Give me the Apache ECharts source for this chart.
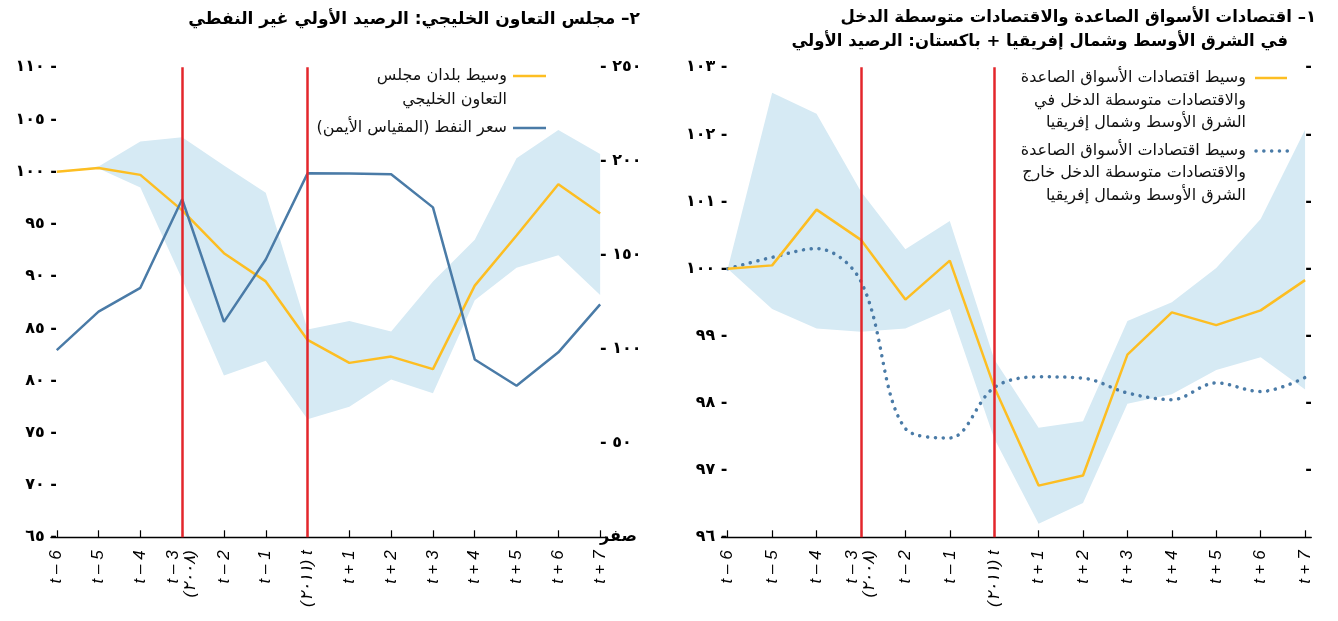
<!DOCTYPE html>
<html>
<head>
<meta charset="utf-8">
<script src="https://cdn.jsdelivr.net/npm/echarts@6/dist/echarts.min.js"></script>
<style>
  html, body { margin: 0; padding: 0; background: #fff; }
  #chart { width: 1338px; height: 621px; }
</style>
</head>
<body>
<div id="chart"></div>
<script>
// periods around the shock (t-3 = 2008, t = 2011)
const periods = ['t – 6', 't – 5', 't – 4', 't – 3\n(٢٠٠٨)', 't – 2', 't – 1', '(٢٠١١) t',
  't + 1', 't + 2', 't + 3', 't + 4', 't + 5', 't + 6', 't + 7'];
const shockIdx = [3, 6];

// panel 2: GCC non-oil primary balance (index) + oil price (right scale)
const gccMedian = [100, 100.35, 99.7, 96.3, 92.2, 89.5, 83.9, 81.7, 82.3, 81.1, 89.1, 93.9, 98.8, 96.0];
const gccLow = [100, 100.3, 98.5, 89.7, 80.5, 81.9, 76.3, 77.5, 80.1, 78.8, 87.7, 90.8, 92.0, 88.2];
const gccHigh = [100, 100.5, 102.9, 103.3, 100.6, 98.0, 84.9, 85.7, 84.7, 89.5, 93.5, 101.3, 104.0, 101.7];
const oilPrice = [99.6, 120.0, 132.7, 179.8, 114.6, 147.8, 193.6, 193.5, 193.1, 175.5, 94.6, 80.6, 98.4, 123.9];

// panel 1: EM/MI economies primary balance (index)
const menaMedian = [100, 100.05, 100.88, 100.43, 99.54, 100.12, 98.24, 96.77, 96.92, 98.72, 99.35, 99.16, 99.38, 99.83];
const menaLow = [100, 99.40, 99.11, 99.06, 99.11, 99.40, 97.47, 96.20, 96.51, 97.99, 98.13, 98.49, 98.68, 98.20];
const menaHigh = [100, 102.62, 102.31, 101.15, 100.29, 100.71, 98.65, 97.63, 97.73, 99.22, 99.50, 100.01, 100.74, 102.07];
const otherMedian = [100, 100.17, 100.30, 99.81, 97.62, 97.48, 98.23, 98.39, 98.37, 98.15, 98.05, 98.30, 98.17, 98.38];

const gccLegend = ['وسيط بلدان مجلس\nالتعاون الخليجي', 'سعر النفط (المقياس الأيمن)'];
const menaLegend = ['وسيط اقتصادات الأسواق الصاعدة\nوالاقتصادات متوسطة الدخل في\nالشرق الأوسط وشمال إفريقيا',
  'وسيط اقتصادات الأسواق الصاعدة\nوالاقتصادات متوسطة الدخل خارج\nالشرق الأوسط وشمال إفريقيا'];

const GOLD = '#FDBE22', BLUE = '#4A7BA7', BAND = '#D6EAF4', RED = '#E3262B';
const AR_FONT = "'DejaVu Sans', sans-serif";

const arDigits = n => String(n).replace(/\d/g, d => '٠١٢٣٤٥٦٧٨٩'[d]);
// canvas runs LTR, keep arabic lines right-to-left
const rtl = s => s.split('\n').map(l => '\u200F' + l + '\u200F').join('\n');
const pts = arr => arr.map((v, i) => [i, v]);

const idx = periods.map((p, i) => i);

function xAxisFor(gridIndex) {
  return {
    type: 'value', gridIndex: gridIndex, min: -0.14, max: 13.14, z: 4,
    axisLine: { show: true, onZero: false, lineStyle: { color: '#000', width: 1.3 } },
    axisTick: { show: true, inside: true, length: 7, customValues: idx, lineStyle: { color: '#000', width: 1.2 } },
    axisLabel: {
      customValues: idx, rotate: 90, margin: 13, color: '#000',
      fontSize: 17, fontStyle: 'italic', fontFamily: "'Liberation Sans', 'DejaVu Sans', sans-serif",
      formatter: v => periods[Math.round(v)]
    },
    splitLine: { show: false }
  };
}

function yAxisFor(gridIndex, pos, min, max, interval, fmt) {
  return {
    type: 'value', gridIndex: gridIndex, position: pos, min: min, max: max, interval: interval,
    axisLine: { show: false }, axisTick: { show: false }, splitLine: { show: false },
    axisLabel: { margin: -6, color: '#000', fontSize: 16, fontWeight: 'bold', fontFamily: AR_FONT, formatter: fmt }
  };
}

// range between lowest and highest country, drawn as one polygon
function band(xi, yi, lo, hi) {
  return {
    type: 'custom', xAxisIndex: xi, yAxisIndex: yi, silent: true, z: 1, clip: true,
    data: lo.map((v, i) => [i, v, hi[i]]),
    renderItem: (params, api) => {
      if (params.dataIndex !== 0) return null;
      const top = hi.map((v, i) => api.coord([i, v]));
      const bottom = lo.map((v, i) => api.coord([i, v])).reverse();
      return { type: 'polygon', shape: { points: top.concat(bottom) }, style: { fill: BAND } };
    }
  };
}

function shockLines(xi, yi) {
  return {
    type: 'line', xAxisIndex: xi, yAxisIndex: yi, data: [], z: 5, silent: true,
    markLine: {
      silent: true, symbol: ['none', 'none'], label: { show: false },
      lineStyle: { color: RED, width: 2.5, type: 'solid' },
      emphasis: { disabled: true },
      data: shockIdx.map(i => ({ xAxis: i }))
    }
  };
}

const legendText = (text, x, y, lh) => ({
  type: 'text', silent: true,
  style: { text: rtl(text), x: x, y: y, align: 'right', verticalAlign: 'top',
    fontSize: 16, lineHeight: lh, fontFamily: AR_FONT, fill: '#111' }
});

const chart = echarts.init(document.getElementById('chart'));
chart.setOption({
  animation: false,
  backgroundColor: '#fff',
  title: [
    { text: rtl('٢– مجلس التعاون الخليجي: الرصيد الأولي غير النفطي'), right: 693, top: 6,
      textStyle: { fontSize: 17, fontWeight: 'bold', color: '#000', fontFamily: AR_FONT } },
    { text: rtl('١– اقتصادات الأسواق الصاعدة والاقتصادات متوسطة الدخل'), right: 17, top: 4,
      textStyle: { fontSize: 16.5, fontWeight: 'bold', color: '#000', fontFamily: AR_FONT } },
    { text: rtl('في الشرق الأوسط وشمال إفريقيا + باكستان: الرصيد الأولي'), right: 45, top: 28,
      textStyle: { fontSize: 16.5, fontWeight: 'bold', color: '#000', fontFamily: AR_FONT } }
  ],
  grid: [
    { left: 50.9, top: 67.3, width: 555.1, height: 470 },
    { left: 721.5, top: 67.3, width: 589.8, height: 470 }
  ],
  xAxis: [xAxisFor(0), xAxisFor(1)],
  yAxis: [
    yAxisFor(0, 'left', 65, 110, 5, v => arDigits(v) + ' -'),
    yAxisFor(0, 'right', 0, 250, 50, v => v === 0 ? rtl('صفر') : '- ' + arDigits(v)),
    yAxisFor(1, 'left', 96, 103, 1, v => arDigits(v) + ' -'),
    yAxisFor(1, 'right', 96, 103, 1, v => v === 96 ? '' : '-')
  ],
  series: [
    band(0, 0, gccLow, gccHigh),
    { name: 'gccMedian', type: 'line', xAxisIndex: 0, yAxisIndex: 0, data: pts(gccMedian), symbol: 'none',
      lineStyle: { color: GOLD, width: 2.5 }, z: 3 },
    { name: 'oilPrice', type: 'line', xAxisIndex: 0, yAxisIndex: 1, data: pts(oilPrice), symbol: 'none',
      lineStyle: { color: BLUE, width: 2.5 }, z: 3 },
    shockLines(0, 0),

    band(1, 2, menaLow, menaHigh),
    { name: 'otherMedian', type: 'line', xAxisIndex: 1, yAxisIndex: 2, data: pts(otherMedian), symbol: 'none',
      smooth: 0.35, lineStyle: { color: BLUE, width: 3.5, type: [0.1, 7.7], cap: 'round' }, z: 3 },
    { name: 'menaMedian', type: 'line', xAxisIndex: 1, yAxisIndex: 2, data: pts(menaMedian), symbol: 'none',
      lineStyle: { color: GOLD, width: 2.5 }, z: 3 },
    shockLines(1, 2)
  ],
  graphic: [
    { type: 'line', silent: true, shape: { x1: 513, y1: 76, x2: 546, y2: 76 }, style: { stroke: GOLD, lineWidth: 2.5 } },
    legendText(gccLegend[0], 507, 64, 24),
    { type: 'line', silent: true, shape: { x1: 513, y1: 128, x2: 546, y2: 128 }, style: { stroke: BLUE, lineWidth: 2.5 } },
    legendText(gccLegend[1], 507, 116, 24),

    { type: 'line', silent: true, shape: { x1: 1255, y1: 78, x2: 1287, y2: 78 }, style: { stroke: GOLD, lineWidth: 2.5 } },
    legendText(menaLegend[0], 1246, 66.7, 22.5),
    { type: 'line', silent: true, shape: { x1: 1256, y1: 151, x2: 1290, y2: 151 },
      style: { stroke: BLUE, lineWidth: 3.5, lineDash: [0.1, 7.7], lineCap: 'round' } },
    legendText(menaLegend[1], 1246, 139.5, 22.5)
  ]
});
</script>
</body>
</html>
